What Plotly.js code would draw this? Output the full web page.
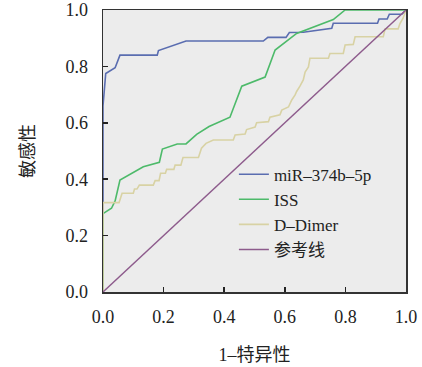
<!DOCTYPE html>
<html><head><meta charset="utf-8">
<script src="https://cdn.plot.ly/plotly-3.0.1.min.js"></script>
<style>html,body{margin:0;padding:0;background:#fff;}#chart{width:422px;height:367px;}</style>
</head><body><div id="chart"></div>
<script>
const seriesNames = ["miR–374b–5p", "ISS", "D–Dimer", "参考线"];
const xTicks = [0, 0.2, 0.4, 0.6, 0.8, 1.0];
const xTickText = ["0.0", "0.2", "0.4", "0.6", "0.8", "1.0"];
const yTicks = [0, 0.2, 0.4, 0.6, 0.8, 1.0];
const yTickText = ["0.0", "0.2", "0.4", "0.6", "0.8", "1.0"];

const mirFpr = [0, 0, 0.009, 0.033, 0.040, 0.056, 0.179, 0.183, 0.274, 0.529, 0.544, 0.604, 0.615, 0.661, 0.755, 0.760, 0.906, 0.911, 0.938, 0.945, 0.986, 1];
const mirTpr = [0, 0.66, 0.775, 0.79, 0.795, 0.84, 0.84, 0.856, 0.89, 0.89, 0.903, 0.903, 0.92, 0.921, 0.935, 0.953, 0.953, 0.968, 0.968, 0.985, 0.985, 1];

const issFpr = [0, 0, 0.028, 0.040, 0.056, 0.133, 0.186, 0.196, 0.245, 0.274, 0.309, 0.350, 0.419, 0.458, 0.535, 0.568, 0.639, 0.760, 0.799, 1];
const issTpr = [0, 0.278, 0.297, 0.323, 0.397, 0.444, 0.460, 0.507, 0.525, 0.525, 0.559, 0.587, 0.620, 0.730, 0.762, 0.858, 0.917, 0.966, 1, 1];

const ddFpr = [0, 0, 0.053, 0.063, 0.100, 0.104, 0.112, 0.120, 0.166, 0.172, 0.185, 0.190, 0.206, 0.210, 0.234, 0.238, 0.257, 0.262, 0.264, 0.315, 0.320, 0.325, 0.340, 0.364, 0.430, 0.436, 0.469, 0.474, 0.502, 0.507, 0.546, 0.551, 0.584, 0.590, 0.612, 0.623, 0.634, 0.639, 0.650, 0.661, 0.667, 0.678, 0.683, 0.744, 0.749, 0.793, 0.799, 0.826, 0.832, 0.925, 0.931, 0.974, 0.980, 0.990, 1];
const ddTpr = [0, 0.317, 0.317, 0.350, 0.350, 0.365, 0.365, 0.379, 0.379, 0.395, 0.395, 0.421, 0.421, 0.435, 0.435, 0.450, 0.450, 0.466, 0.477, 0.477, 0.493, 0.510, 0.527, 0.539, 0.539, 0.557, 0.560, 0.576, 0.585, 0.600, 0.604, 0.620, 0.628, 0.645, 0.656, 0.681, 0.699, 0.711, 0.730, 0.752, 0.780, 0.798, 0.829, 0.829, 0.846, 0.846, 0.876, 0.878, 0.905, 0.905, 0.933, 0.933, 0.952, 0.970, 1];

const refX = [0, 1];
const refY = [0, 1];

const colors = ["#5a6db0", "#4dba6a", "#d8d2a4", "#8d5b8c"];

const traces = [
  {x: mirFpr, y: mirTpr, name: seriesNames[0], line: {color: colors[0], width: 1.6}},
  {x: issFpr, y: issTpr, name: seriesNames[1], line: {color: colors[1], width: 1.6}},
  {x: ddFpr, y: ddTpr, name: seriesNames[2], line: {color: colors[2], width: 1.6}},
  {x: refX, y: refY, name: seriesNames[3], line: {color: colors[3], width: 1.4}}
].map(t => Object.assign({type: "scatter", mode: "lines", hoverinfo: "skip"}, t));

const tickFont = {family: "Liberation Serif, Times New Roman, serif", size: 18, color: "#222"};
const cjkFont = {family: "Liberation Serif, Noto Sans CJK SC, serif", size: 18, color: "#222"};

const layout = {
  width: 422, height: 367,
  margin: {l: 103, r: 16, t: 10, b: 75},
  paper_bgcolor: "#ffffff",
  plot_bgcolor: "#ececec",
  showlegend: true,
  legend: {
    x: 0.432, y: 0.48, xanchor: "left", yanchor: "top",
    bgcolor: "rgba(0,0,0,0)", borderwidth: 0,
    font: {family: "Liberation Serif, Noto Sans CJK SC, serif", size: 17, color: "#222"}
  },
  xaxis: {
    range: [0, 1], tickvals: xTicks, ticktext: xTickText,
    ticks: "inside", ticklen: 5, tickwidth: 1.5, tickcolor: "#222",
    showline: true, linecolor: "#333", linewidth: 1.5, mirror: true,
    showgrid: false, zeroline: false, tickfont: tickFont,
    ticklabelstandoff: 8,
    title: {text: "1–特异性", font: cjkFont, standoff: 22}
  },
  yaxis: {
    range: [0, 1], tickvals: yTicks, ticktext: yTickText,
    ticks: "inside", ticklen: 5, tickwidth: 1.5, tickcolor: "#222",
    showline: true, linecolor: "#333", linewidth: 1.5, mirror: true,
    showgrid: false, zeroline: false, tickfont: tickFont,
    ticklabelstandoff: 10,
    title: {text: "敏感性", font: cjkFont, standoff: 26}
  }
};

Plotly.newPlot("chart", traces, layout, {staticPlot: true, displayModeBar: false});
</script>
</body></html>
